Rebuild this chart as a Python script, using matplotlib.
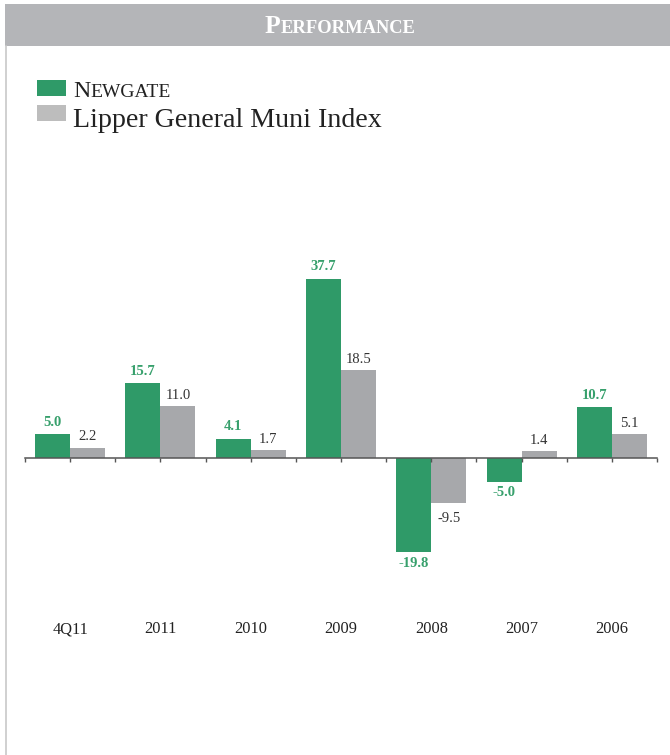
import matplotlib
matplotlib.use('Agg')
import matplotlib.pyplot as plt
from matplotlib.patches import Rectangle
from matplotlib.lines import Line2D
from matplotlib.transforms import blended_transform_factory
import numpy as np

categories = ['4Q11', '2011', '2010', '2009', '2008', '2007', '2006']
newgate = [5.0, 15.7, 4.1, 37.7, -19.8, -5.0, 10.7]
lipper = [2.2, 11.0, 1.7, 18.5, -9.5, 1.4, 5.1]

GREEN = '#2f9a68'
GREEN_TXT = '#37a06c'
GRAY = '#a7a8ab'
W, H = 670, 755

plt.rcParams['font.family'] = ['Liberation Serif', 'DejaVu Serif']

fig = plt.figure(figsize=(W / 100, H / 100), dpi=100)


def fx(px):
    return px / W


def fy(py):
    return 1 - py / H


# header band and left border
fig.add_artist(Rectangle((fx(5), fy(46)), fx(665), 42 / H, transform=fig.transFigure,
                         facecolor='#b4b5b8', edgecolor='none'))
fig.add_artist(Line2D([fx(5.5), fx(5.5)], [fy(46), 0], transform=fig.transFigure,
                      color='#c8c8c8', lw=1.2))

renderer = fig.canvas.get_renderer()


def small_caps(x, y, first, rest, big, small, center=False, **kw):
    t1 = fig.text(fx(x), fy(y), first, fontsize=big, va='baseline', **kw)
    t2 = fig.text(fx(x), fy(y), rest, fontsize=small, va='baseline', **kw)
    w1 = t1.get_window_extent(renderer).width
    w2 = t2.get_window_extent(renderer).width
    x0 = x - (w1 + w2) / 2 if center else x
    t1.set_x(fx(x0))
    t2.set_x(fx(x0 + w1))


small_caps(340, 33, 'P', 'ERFORMANCE', 18.5, 13.3, center=True,
           color='white', fontweight='bold')

# legend
fig.add_artist(Rectangle((fx(37), fy(96)), 29 / W, 15.5 / H, transform=fig.transFigure,
                         facecolor=GREEN, edgecolor='none'))
fig.add_artist(Rectangle((fx(37), fy(121)), 29 / W, 15.5 / H, transform=fig.transFigure,
                         facecolor='#bdbdbd', edgecolor='none'))
small_caps(73, 96.7, 'N', 'EWGATE', 17.2, 14.0, color='#222222')
fig.text(fx(73), fy(127), 'Lipper General Muni Index', fontsize=20.2,
         va='baseline', color='#222222')

# bar chart
ax = fig.add_axes([fx(25), fy(600), fx(657) - fx(25), 460 / H])
x = np.arange(len(categories))
bw = 0.388
ax.bar(x - bw / 2, newgate, bw, color=GREEN, zorder=1)
ax.bar(x + bw / 2, lipper, bw, color=GRAY, zorder=1)
ax.set_xlim(-0.5, len(categories) - 0.5)
ax.set_ylim(-29.8, 66.8)

for s in ['top', 'left', 'right']:
    ax.spines[s].set_visible(False)
ax.spines['bottom'].set_position(('data', 0))
ax.spines['bottom'].set_color('#555555')
ax.spines['bottom'].set_linewidth(1.1)
ax.set_yticks([])
ax.set_xticks(np.arange(-0.5, len(categories), 0.5))
ax.tick_params(axis='x', direction='out', length=3, width=1, color='#555555',
               labelbottom=False)
ax.patch.set_alpha(0)

for i in range(len(categories)):
    v = newgate[i]
    ax.annotate(f'{v:.1f}', (x[i] - bw / 2, v), xytext=(0, 4 if v >= 0 else -3),
                textcoords='offset points', ha='center',
                va='bottom' if v >= 0 else 'top', fontsize=10.5,
                fontweight='bold', color=GREEN_TXT)
    v = lipper[i]
    ax.annotate(f'{v:.1f}', (x[i] + bw / 2, v), xytext=(0, 3 if v >= 0 else -6),
                textcoords='offset points', ha='center',
                va='bottom' if v >= 0 else 'top', fontsize=10.5,
                color='#333333')

# category labels, centred under each group, well below the zero line
trans = blended_transform_factory(ax.transData, fig.transFigure)
for i, c in enumerate(categories):
    ax.text(x[i], fy(633), c, transform=trans, fontsize=11.8, ha='center',
            va='baseline', color='#222222')

fig.savefig('out.png', dpi=100)
